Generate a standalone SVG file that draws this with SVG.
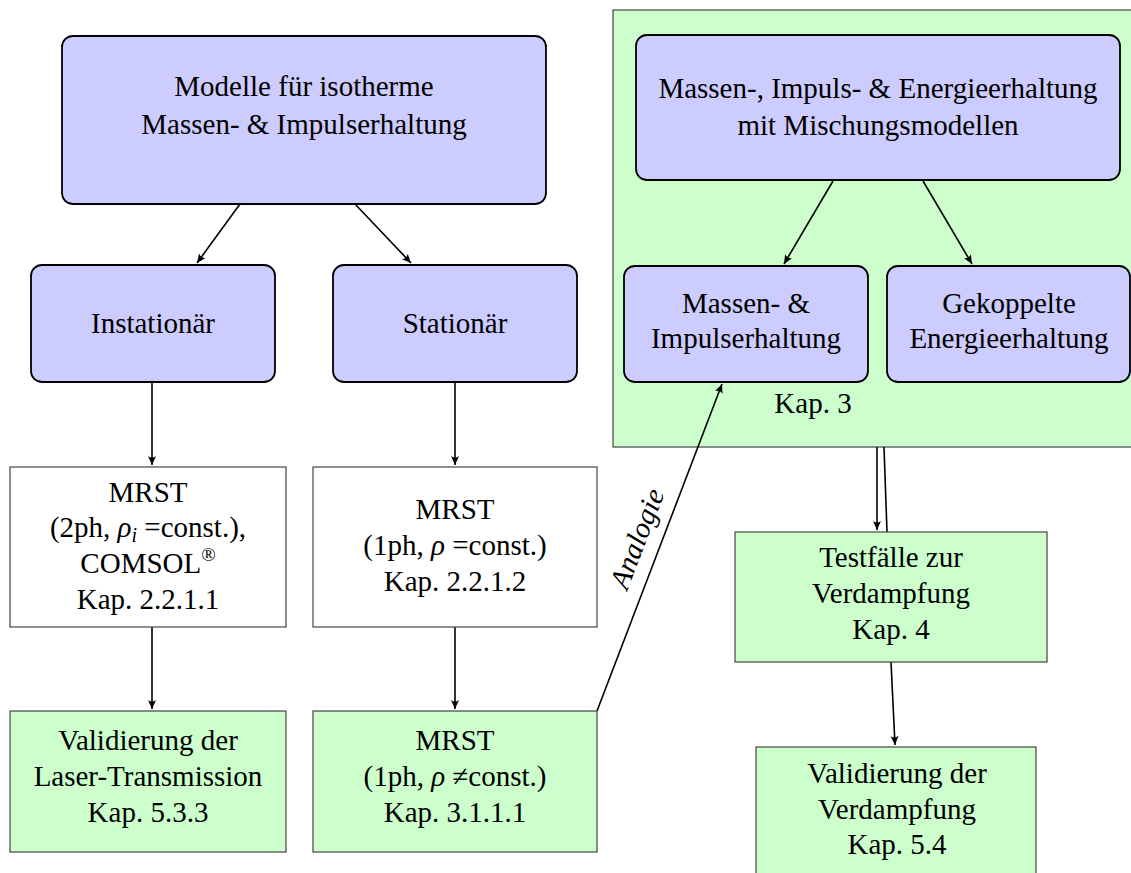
<svg xmlns="http://www.w3.org/2000/svg" width="1131" height="873" viewBox="0 0 1131 873">
<style>
.rb{fill:#ccccff;stroke:#000;stroke-width:1.8}
.wb{fill:#fff;stroke:#444;stroke-width:1.2}
.gb{fill:#ccffcc;stroke:#444;stroke-width:1.2}
</style>
<defs>
<marker id="ah" viewBox="-10 -5 12 10" refX="0" refY="0" markerWidth="12" markerHeight="10" markerUnits="userSpaceOnUse" orient="auto">
<path d="M0,0 L-9,-4 Q-6,0 -9,4 Z" fill="#000"/>
</marker>
</defs>
<g id="kap3">
<rect x="613" y="10" width="525" height="437" class="gb"/>
<text font-family="Liberation Serif, Times New Roman, serif" font-size="29" text-anchor="middle" x="813" y="413">Kap. 3</text>
</g>
<g id="connectors" fill="none" stroke="#000" stroke-width="1.6">
<line x1="240" y1="204" x2="197" y2="263" marker-end="url(#ah)"/>
<line x1="355" y1="204" x2="411" y2="263" marker-end="url(#ah)"/>
<line x1="152" y1="382" x2="152" y2="465" marker-end="url(#ah)"/>
<line x1="455" y1="382" x2="455" y2="465" marker-end="url(#ah)"/>
<line x1="152" y1="627" x2="152" y2="709" marker-end="url(#ah)"/>
<line x1="455" y1="627" x2="455" y2="709" marker-end="url(#ah)"/>
<line x1="597" y1="711" x2="722" y2="384" marker-end="url(#ah)"/>
<line x1="833" y1="181" x2="784" y2="264" marker-end="url(#ah)"/>
<line x1="923" y1="181" x2="972" y2="264" marker-end="url(#ah)"/>
<line x1="877" y1="447" x2="877" y2="530" marker-end="url(#ah)"/>
<line x1="884" y1="447" x2="887" y2="532"/>
<line x1="891" y1="662" x2="895" y2="745" marker-end="url(#ah)"/>
<text stroke="none" fill="#000" font-family="Liberation Serif, Times New Roman, serif" font-size="29" font-style="italic" text-anchor="middle" transform="translate(646,542) rotate(-69)">Analogie</text>
</g>
<g id="n-modelle">
<rect x="62" y="36" width="484" height="168" rx="11" class="rb"/>
<text font-family="Liberation Serif, Times New Roman, serif" font-size="29" text-anchor="middle" x="304" y="96">Modelle für isotherme</text>
<text font-family="Liberation Serif, Times New Roman, serif" font-size="29" text-anchor="middle" x="304" y="134">Massen- &amp; Impulserhaltung</text>
</g>
<g id="n-instationaer">
<rect x="31" y="265" width="244" height="117" rx="11" class="rb"/>
<text font-family="Liberation Serif, Times New Roman, serif" font-size="29" text-anchor="middle" x="153" y="333">Instationär</text>
</g>
<g id="n-stationaer">
<rect x="333" y="265" width="244" height="117" rx="11" class="rb"/>
<text font-family="Liberation Serif, Times New Roman, serif" font-size="29" text-anchor="middle" x="455" y="333">Stationär</text>
</g>
<g id="n-mrst2ph">
<rect x="10" y="467" width="276" height="160" class="wb"/>
<text font-family="Liberation Serif, Times New Roman, serif" font-size="29" text-anchor="middle" x="148" y="502">MRST</text>
<text font-family="Liberation Serif, Times New Roman, serif" font-size="29" text-anchor="middle" x="148" y="537">(2ph, <tspan font-style="italic">ρ</tspan><tspan font-style="italic" font-size="20" dy="5">i</tspan><tspan dy="-5"> =const.),</tspan></text>
<text font-family="Liberation Serif, Times New Roman, serif" font-size="29" text-anchor="middle" x="148" y="573">COMSOL<tspan font-size="19" dy="-12">®</tspan></text>
<text font-family="Liberation Serif, Times New Roman, serif" font-size="29" text-anchor="middle" x="148" y="609">Kap. 2.2.1.1</text>
</g>
<g id="n-mrst1ph">
<rect x="313" y="467" width="284" height="160" class="wb"/>
<text font-family="Liberation Serif, Times New Roman, serif" font-size="29" text-anchor="middle" x="455" y="519">MRST</text>
<text font-family="Liberation Serif, Times New Roman, serif" font-size="29" text-anchor="middle" x="455" y="555">(1ph, <tspan font-style="italic">ρ</tspan> =const.)</text>
<text font-family="Liberation Serif, Times New Roman, serif" font-size="29" text-anchor="middle" x="455" y="591">Kap. 2.2.1.2</text>
</g>
<g id="n-laser">
<rect x="10" y="711" width="276" height="141" class="gb"/>
<text font-family="Liberation Serif, Times New Roman, serif" font-size="29" text-anchor="middle" x="148" y="750">Validierung der</text>
<text font-family="Liberation Serif, Times New Roman, serif" font-size="29" text-anchor="middle" x="148" y="786">Laser-Transmission</text>
<text font-family="Liberation Serif, Times New Roman, serif" font-size="29" text-anchor="middle" x="148" y="822">Kap. 5.3.3</text>
</g>
<g id="n-mrst1phvar">
<rect x="313" y="711" width="284" height="141" class="gb"/>
<text font-family="Liberation Serif, Times New Roman, serif" font-size="29" text-anchor="middle" x="455" y="750">MRST</text>
<text font-family="Liberation Serif, Times New Roman, serif" font-size="29" text-anchor="middle" x="455" y="786">(1ph, <tspan font-style="italic">ρ</tspan> ≠const.)</text>
<text font-family="Liberation Serif, Times New Roman, serif" font-size="29" text-anchor="middle" x="455" y="822">Kap. 3.1.1.1</text>
</g>
<g id="n-mie">
<rect x="636" y="35" width="484" height="145" rx="11" class="rb"/>
<text font-family="Liberation Serif, Times New Roman, serif" font-size="29" text-anchor="middle" x="878" y="98">Massen-, Impuls- &amp; Energieerhaltung</text>
<text font-family="Liberation Serif, Times New Roman, serif" font-size="29" text-anchor="middle" x="878" y="135">mit Mischungsmodellen</text>
</g>
<g id="n-mi">
<rect x="624" y="266" width="244" height="116" rx="11" class="rb"/>
<text font-family="Liberation Serif, Times New Roman, serif" font-size="29" text-anchor="middle" x="746" y="313">Massen- &amp;</text>
<text font-family="Liberation Serif, Times New Roman, serif" font-size="29" text-anchor="middle" x="746" y="348">Impulserhaltung</text>
</g>
<g id="n-gek">
<rect x="887" y="266" width="243" height="116" rx="11" class="rb"/>
<text font-family="Liberation Serif, Times New Roman, serif" font-size="29" text-anchor="middle" x="1009" y="313">Gekoppelte</text>
<text font-family="Liberation Serif, Times New Roman, serif" font-size="29" text-anchor="middle" x="1009" y="348">Energieerhaltung</text>
</g>
<g id="n-test">
<rect x="735" y="532" width="312" height="130" class="gb"/>
<text font-family="Liberation Serif, Times New Roman, serif" font-size="29" text-anchor="middle" x="891" y="567">Testfälle zur</text>
<text font-family="Liberation Serif, Times New Roman, serif" font-size="29" text-anchor="middle" x="891" y="603">Verdampfung</text>
<text font-family="Liberation Serif, Times New Roman, serif" font-size="29" text-anchor="middle" x="891" y="639">Kap. 4</text>
</g>
<g id="n-valverd">
<rect x="756" y="747" width="280" height="140" class="gb"/>
<text font-family="Liberation Serif, Times New Roman, serif" font-size="29" text-anchor="middle" x="897" y="783">Validierung der</text>
<text font-family="Liberation Serif, Times New Roman, serif" font-size="29" text-anchor="middle" x="897" y="819">Verdampfung</text>
<text font-family="Liberation Serif, Times New Roman, serif" font-size="29" text-anchor="middle" x="897" y="854">Kap. 5.4</text>
</g>
</svg>
